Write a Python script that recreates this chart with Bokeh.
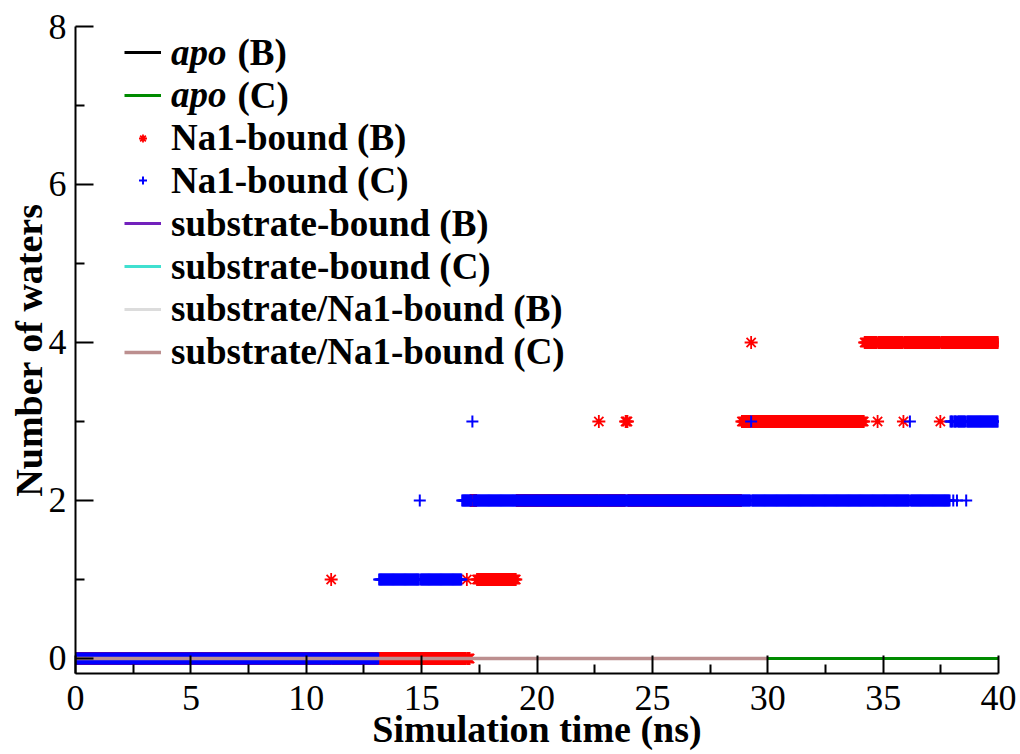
import numpy as np
from bokeh.plotting import figure
from bokeh.models import Legend, LegendItem, Label, FixedTicker
from bokeh.embed import file_html
from bokeh.resources import INLINE

# ---------------- data ----------------
dt = 0.04  # frame interval, ns

# each series: times at which the number of waters changes, and the new value
apo_b_t = [0.0]
apo_b_n = [0]
apo_b_end = 40.0

apo_c_t = [0.0]
apo_c_n = [0]
apo_c_end = 40.0

na1_b_t = [0.0, 11.08, 11.12, 16.96, 17.00, 17.12, 17.40, 19.12, 22.68, 22.72,
           23.84, 23.96, 28.88, 29.28, 29.32, 34.20, 34.76, 34.80, 35.88, 35.92,
           37.48, 37.52]
na1_b_n = [0, 1, 0, 1, 0, 2, 1, 2, 3, 2,
           3, 2, 3, 4, 3, 4, 3, 4, 3, 4,
           3, 4]
na1_b_end = 40.0

na1_c_t = [0.0, 13.16, 14.92, 14.96, 16.76, 17.20, 17.24, 29.28, 29.32, 36.16,
           36.20, 37.92, 38.04, 38.08, 38.20, 38.24, 38.60, 38.64]
na1_c_n = [0, 1, 2, 1, 2, 3, 2, 3, 2, 3,
           2, 3, 2, 3, 2, 3, 2, 3]
na1_c_end = 40.0

sub_b_t = [0.0]
sub_b_n = [0]
sub_b_end = 30.0

sub_c_t = [0.0]
sub_c_n = [0]
sub_c_end = 30.0

subna_b_t = [0.0]
subna_b_n = [0]
subna_b_end = 30.0

subna_c_t = [0.0]
subna_c_n = [0]
subna_c_end = 30.0

x_major = [0, 5, 10, 15, 20, 25, 30, 35, 40]
x_minor = [2.5, 7.5, 12.5, 17.5, 22.5, 27.5, 32.5, 37.5]
y_major = [0, 2, 4, 6, 8]
y_minor = [1, 3, 5, 7]

legend_labels = ["apo", "apo", "Na1-bound (B)", "Na1-bound (C)",
                 "substrate-bound (B)", "substrate-bound (C)",
                 "substrate/Na1-bound (B)", "substrate/Na1-bound (C)"]
legend_suffix = ["(B)", "(C)", "", "", "", "", "", ""]


def expand(change_t, change_n, t_end):
    t = np.round(np.arange(0.0, t_end + dt / 2, dt), 2)
    idx = np.searchsorted(np.asarray(change_t), t + 1e-9, side="right") - 1
    return t, np.asarray(change_n)[idx]


FONT = "Liberation Serif"
FRAME_H = 647

p = figure(frame_width=923, frame_height=FRAME_H, x_range=(0, 40), y_range=(-0.19, 8),
           output_backend="svg", toolbar_location=None,
           min_border_top=26, min_border_right=20, min_border_left=75, min_border_bottom=0)
p.grid.visible = False
p.outline_line_color = None
p.background_fill_color = "white"
p.border_fill_color = "white"

# series (drawn in legend order)
rs = []
t, n = expand(apo_b_t, apo_b_n, apo_b_end)
rs.append(p.line(t, n, line_color="black", line_width=3))
t, n = expand(apo_c_t, apo_c_n, apo_c_end)
rs.append(p.line(t, n, line_color="#008b00", line_width=3))
t, n = expand(na1_b_t, na1_b_n, na1_b_end)
rs.append(p.scatter(t, n, marker="asterisk", size=13, line_color="red", line_width=1.8))
t, n = expand(na1_c_t, na1_c_n, na1_c_end)
rs.append(p.scatter(t, n, marker="cross", size=12, line_color="blue", line_width=2))
t, n = expand(sub_b_t, sub_b_n, sub_b_end)
rs.append(p.line(t, n, line_color="#7221bc", line_width=3))
t, n = expand(sub_c_t, sub_c_n, sub_c_end)
rs.append(p.line(t, n, line_color="#40e0d0", line_width=3))
t, n = expand(subna_b_t, subna_b_n, subna_b_end)
rs.append(p.line(t, n, line_color="#dcdcdc", line_width=3))
t, n = expand(subna_c_t, subna_c_n, subna_c_end)
rs.append(p.line(t, n, line_color="#bc8f8f", line_width=3.5))

# axes
for ax in (p.xaxis[0], p.yaxis[0]):
    ax.axis_line_width = 2
    ax.major_tick_line_width = 2
    ax.minor_tick_line_width = 2
    ax.major_tick_in = 18
    ax.major_tick_out = 0
    ax.minor_tick_in = 9
    ax.minor_tick_out = 0
    ax.major_label_text_font = FONT
    ax.major_label_text_font_size = "36px"
    ax.major_label_text_color = "black"
    ax.axis_label_text_font = FONT
    ax.axis_label_text_font_size = "38px"
    ax.axis_label_text_font_style = "bold"
    ax.axis_label_text_color = "black"

p.xaxis[0].ticker = FixedTicker(ticks=x_major, minor_ticks=x_minor)
p.yaxis[0].ticker = FixedTicker(ticks=y_major, minor_ticks=y_minor)
p.xaxis[0].axis_label = "Simulation time (ns)"
p.yaxis[0].axis_label = "Number of waters"
p.xaxis[0].major_label_standoff = 12
p.xaxis[0].axis_label_standoff = -5
p.yaxis[0].major_label_standoff = 9
p.yaxis[0].axis_label_standoff = -4

# legend: one single-row legend per entry (so "apo" can be italic)
ROW0 = 53.0      # centre of first row in the page
ROW_STEP = 42.8
TXT_H = 43.0     # height Bokeh gives a 37px label row
for i, (lab, suf, r) in enumerate(zip(legend_labels, legend_suffix, rs)):
    centre_from_top = ROW0 - 27 + i * ROW_STEP      # px below the frame top
    centre_from_bottom = FRAME_H - centre_from_top
    leg = Legend(items=[LegendItem(label=lab, renderers=[r])],
                 location=(49, centre_from_bottom - TXT_H / 2),
                 glyph_width=37, glyph_height=20, label_standoff=10, spacing=0,
                 padding=0, margin=0, border_line_color=None, background_fill_alpha=0,
                 label_text_font=FONT, label_text_font_size="37px",
                 label_text_color="black",
                 label_text_font_style="bold italic" if suf else "bold")
    p.add_layout(leg)
    if suf:
        p.add_layout(Label(x=162, y=centre_from_bottom, x_units="screen", y_units="screen",
                           text=suf, text_font=FONT, text_font_size="37px",
                           text_font_style="bold", text_baseline="middle",
                           text_color="black"))

open("out.html", "w").write(file_html(p, INLINE))
